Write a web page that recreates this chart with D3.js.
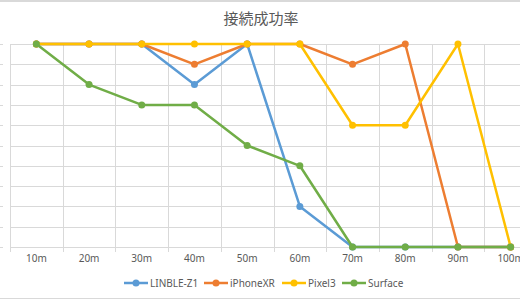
<!DOCTYPE html>
<html>
<head>
<meta charset="utf-8">
<script src="https://cdn.jsdelivr.net/npm/d3@7"></script>
<style>
  html, body { margin: 0; padding: 0; background: #fff; }
  svg { display: block; font-family: "Noto Sans CJK JP", "Noto Sans", sans-serif; }
</style>
</head>
<body>
<svg id="chart" width="520" height="300"></svg>
<script>
// categories & series (0..10 steps)
const distances = ['10m','20m','30m','40m','50m','60m','70m','80m','90m','100m'];
const linble  = [10, 10, 10, 8, 10, 2, 0, 0, 0, 0];
const iphone  = [10, 10, 10, 9, 10, 10, 9, 10, 0, 0];
const pixel   = [10, 10, 10, 10, 10, 10, 6, 6, 10, 0];
const surface = [10, 8, 7, 7, 5, 4, 0, 0, 0, 0];
const seriesNames = ['LINBLE-Z1', 'iPhoneXR', 'Pixel3', 'Surface'];
const seriesColors = ['#5B9BD5', '#ED7D31', '#FFC000', '#70AD47'];
const yTicks = d3.range(0, 11);

const series = [linble, iphone, pixel, surface].map((v, i) => ({
  name: seriesNames[i], color: seriesColors[i], values: v
}));

const W = 520, H = 300;
const svg = d3.select('#chart');

// outer frame bits
svg.append('rect').attr('x', 0).attr('y', 0).attr('width', W).attr('height', 2).attr('fill', '#d9d9d9');
svg.append('line').attr('x1', 0).attr('x2', W).attr('y1', 298.5).attr('y2', 298.5)
  .attr('stroke', '#d9d9d9').attr('stroke-width', 1);

// title
svg.append('text')
  .attr('x', 261).attr('y', 24)
  .attr('text-anchor', 'middle')
  .attr('font-size', 15)
  .attr('fill', '#595959')
  .text('接続成功率');

const x = d3.scaleBand().domain(distances).range([10, 537]);
const y = d3.scaleLinear().domain([0, 10]).range([247, 44]);

// horizontal grid
svg.append('g').selectAll('line').data(yTicks).join('line')
  .attr('x1', 0).attr('x2', W)
  .attr('y1', d => Math.round(y(d)) + 0.5).attr('y2', d => Math.round(y(d)) + 0.5)
  .attr('stroke', '#d9d9d9');
// hide grid left of the plot except small tick stubs
svg.append('rect').attr('x', 3).attr('y', 40).attr('width', 7).attr('height', 212).attr('fill', '#fff');

// vertical grid at category boundaries (with ticks below axis)
const bounds = distances.map(d => x(d)).concat([x.range()[1]]);
svg.append('g').selectAll('line').data(bounds).join('line')
  .attr('x1', d => Math.round(d) + 0.5).attr('x2', d => Math.round(d) + 0.5)
  .attr('y1', y(10)).attr('y2', 252)
  .attr('stroke', '#d9d9d9');

// x axis labels
const xAxis = d3.axisBottom(x).tickSize(0).tickPadding(0);
const gx = svg.append('g').attr('transform', 'translate(0,255)').call(xAxis);
gx.select('.domain').remove();
gx.selectAll('text').attr('font-size', 10).attr('fill', '#595959').attr('dy', '0.71em')
  .style('font-family', '"Noto Sans", sans-serif');

// lines
const cx = d => x(d) + x.bandwidth() / 2;
const line = d3.line().x((v, i) => cx(distances[i])).y(v => y(v));

const sg = svg.append('g').selectAll('g').data(series).join('g');
sg.append('path')
  .attr('d', d => line(d.values))
  .attr('fill', 'none')
  .attr('stroke', d => d.color)
  .attr('stroke-width', 2.5)
  .attr('stroke-linejoin', 'round');
sg.selectAll('circle').data(d => d.values.map((v, i) => ({ v, i, color: d.color }))).join('circle')
  .attr('cx', d => cx(distances[d.i]))
  .attr('cy', d => y(d.v))
  .attr('r', 3.5)
  .attr('fill', d => d.color);

// legend
const legendX = [124, 204, 282, 342];
const lg = svg.append('g').selectAll('g').data(series).join('g')
  .attr('transform', (d, i) => `translate(${legendX[i]},283)`);
lg.append('line').attr('x1', 0).attr('x2', 24).attr('y1', 0).attr('y2', 0)
  .attr('stroke', d => d.color).attr('stroke-width', 2.5);
lg.append('circle').attr('cx', 12).attr('cy', 0).attr('r', 3.5).attr('fill', d => d.color);
lg.append('text').attr('x', 26).attr('y', 0).attr('dy', '0.35em')
  .attr('font-size', 10).attr('fill', '#595959')
  .style('font-family', '"Noto Sans", sans-serif')
  .text(d => d.name);
</script>
</body>
</html>
